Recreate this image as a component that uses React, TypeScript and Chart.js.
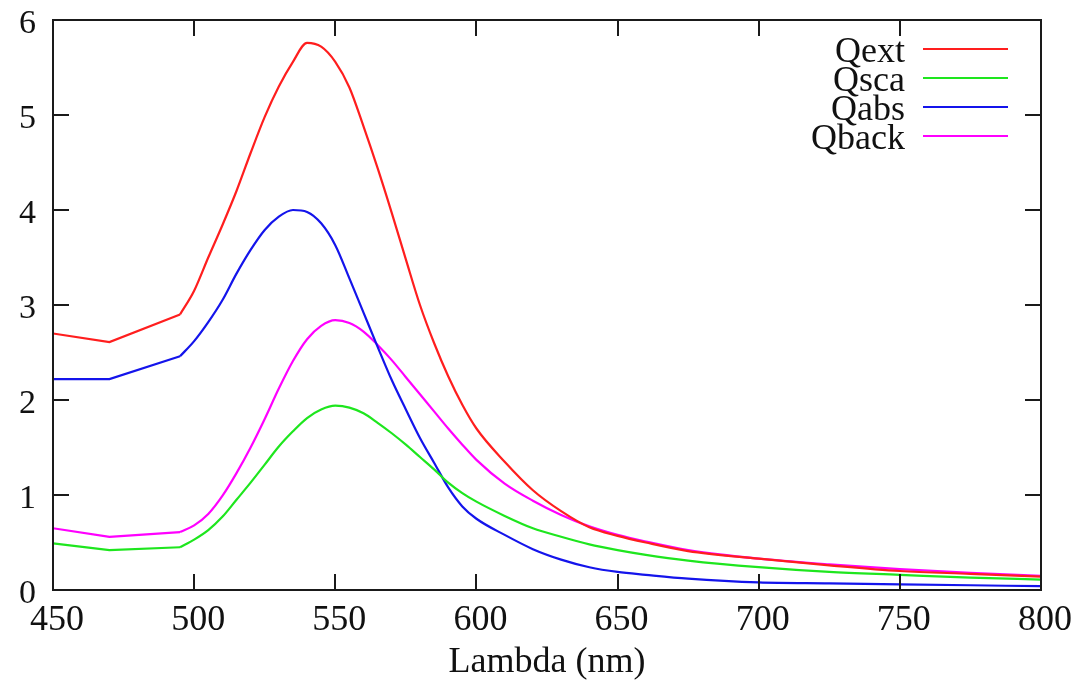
import React, { useEffect, useRef } from "react";
import { Chart, registerables } from "chart.js";

Chart.register(...registerables);

const lambda = [450, 470, 495, 500, 505, 510, 515, 520, 525, 530, 535, 540, 545, 550, 555, 560, 565, 570, 575, 580, 585, 590, 595, 600, 610, 620, 630, 640, 650, 660, 675, 700, 725, 750, 775, 800];

const qext = [2.7, 2.61, 2.9, 3.15, 3.5, 3.84, 4.2, 4.6, 4.98, 5.3, 5.56, 5.76, 5.72, 5.56, 5.29, 4.88, 4.44, 3.97, 3.48, 3.0, 2.6, 2.25, 1.95, 1.7, 1.35, 1.05, 0.83, 0.66, 0.57, 0.5, 0.41, 0.33, 0.26, 0.2, 0.17, 0.14];
const qsca = [0.49, 0.42, 0.45, 0.53, 0.63, 0.77, 0.95, 1.13, 1.32, 1.51, 1.67, 1.81, 1.9, 1.94, 1.92, 1.86, 1.76, 1.65, 1.53, 1.4, 1.27, 1.13, 1.02, 0.93, 0.78, 0.65, 0.56, 0.48, 0.42, 0.37, 0.31, 0.24, 0.19, 0.16, 0.13, 0.11];
const qabs = [2.22, 2.22, 2.46, 2.62, 2.82, 3.05, 3.33, 3.58, 3.79, 3.93, 4.0, 3.98, 3.86, 3.63, 3.28, 2.92, 2.56, 2.21, 1.9, 1.6, 1.34, 1.08, 0.88, 0.75, 0.58, 0.43, 0.32, 0.24, 0.19, 0.16, 0.12, 0.08, 0.07, 0.06, 0.05, 0.04];
const qback = [0.65, 0.56, 0.61, 0.68, 0.8, 0.99, 1.23, 1.5, 1.8, 2.12, 2.41, 2.64, 2.78, 2.84, 2.81, 2.72, 2.58, 2.42, 2.24, 2.06, 1.88, 1.7, 1.53, 1.37, 1.12, 0.94, 0.79, 0.67, 0.58, 0.51, 0.42, 0.33, 0.27, 0.22, 0.18, 0.15];

// the first few samples are coarse (joined by straight segments in the source plot)
const coarseCount = 3;

const seriesNames = ["Qext", "Qsca", "Qabs", "Qback"];
const seriesColors = ["rgb(255,30,30)", "rgb(30,230,30)", "rgb(20,20,235)", "rgb(255,0,255)"];
const xTitle = "Lambda (nm)";

const FONT = "'Liberation Serif', 'Times New Roman', serif";

const framePlugin = {
  id: "gnuFrame",
  afterDatasetsDraw(chart: any) {
    const { ctx, chartArea, scales } = chart;
    const { left, right, top, bottom } = chartArea;
    const tl = 16;
    ctx.save();
    ctx.strokeStyle = "#1a1a1a";
    ctx.lineWidth = 2;
    ctx.beginPath();
    scales.x.ticks.forEach((t: any) => {
      const px = Math.round(scales.x.getPixelForValue(t.value));
      ctx.moveTo(px, bottom);
      ctx.lineTo(px, bottom - tl);
      ctx.moveTo(px, top);
      ctx.lineTo(px, top + tl);
    });
    scales.y.ticks.forEach((t: any) => {
      const py = Math.round(scales.y.getPixelForValue(t.value));
      ctx.moveTo(left, py);
      ctx.lineTo(left + tl, py);
      ctx.moveTo(right, py);
      ctx.lineTo(right - tl, py);
    });
    ctx.stroke();
    ctx.strokeRect(left, top, right - left, bottom - top);

    // legend
    ctx.font = `36px ${FONT}`;
    ctx.textAlign = "right";
    ctx.textBaseline = "alphabetic";
    chart.data.datasets.forEach((ds: any, i: number) => {
      if (!ds.inLegend) return;
      const y = 49 + i * 29;
      ctx.fillStyle = "#111";
      ctx.fillText(ds.label, 905, y + 13);
      ctx.strokeStyle = ds.borderColor;
      ctx.lineWidth = 2;
      ctx.beginPath();
      ctx.moveTo(923, y);
      ctx.lineTo(1008, y);
      ctx.stroke();
    });
    ctx.restore();
  },
};

export default function App() {
  const ref = useRef<HTMLCanvasElement | null>(null);
  useEffect(() => {
    if (!ref.current) return;
    const allSeries = [qext, qsca, qabs, qback];
    const smooth = allSeries.map((vals, i) => ({
      label: seriesNames[i],
      inLegend: true,
      data: lambda.map((x, j) => ({ x, y: vals[j] })).slice(coarseCount - 1),
      borderColor: seriesColors[i],
      borderWidth: 2.2,
      pointRadius: 0,
      cubicInterpolationMode: "monotone" as const,
      fill: false,
    }));
    const coarse = allSeries.map((vals, i) => ({
      label: seriesNames[i] + " (coarse)",
      inLegend: false,
      data: lambda.map((x, j) => ({ x, y: vals[j] })).slice(0, coarseCount),
      borderColor: seriesColors[i],
      borderWidth: 2.2,
      pointRadius: 0,
      tension: 0,
      fill: false,
    }));
    const chart = new Chart(ref.current, {
      type: "line",
      data: { datasets: [...smooth, ...coarse] as any },
      options: {
        animation: false,
        responsive: false,
        devicePixelRatio: 1,
        layout: { padding: { left: 0, top: 20, right: 40, bottom: 0 } },
        plugins: { legend: { display: false }, tooltip: { enabled: false } },
        scales: {
          x: {
            type: "linear",
            min: 450,
            max: 800,
            afterFit: (s: any) => {
              s.height = 94;
              s.paddingLeft = 0;
              s.paddingRight = 0;
            },
            ticks: {
              stepSize: 50,
              color: "#111",
              font: { family: FONT, size: 36 },
              padding: 9,
              labelOffset: 4,
              maxRotation: 0,
            },
            grid: { display: false, drawTicks: false, tickLength: 0 },
            border: { display: false },
            title: {
              display: true,
              text: xTitle,
              color: "#111",
              font: { family: FONT, size: 36 },
              padding: { top: 0, bottom: 0 },
            },
          },
          y: {
            min: 0,
            max: 6,
            afterFit: (s: any) => {
              s.width = 53;
              s.paddingTop = 0;
              s.paddingBottom = 0;
            },
            ticks: {
              stepSize: 1,
              color: "#111",
              font: { family: FONT, size: 34 },
              padding: 17,
              labelOffset: 4,
            },
            grid: { display: false, drawTicks: false, tickLength: 0 },
            border: { display: false },
          },
        },
      },
      plugins: [framePlugin],
    });
    return () => chart.destroy();
  }, []);
  return (
    <div style={{ position: "absolute", left: 0, top: 0, width: 1081, height: 684, background: "#fff" }}>
      <canvas ref={ref} width={1081} height={684} style={{ display: "block" }} />
    </div>
  );
}
